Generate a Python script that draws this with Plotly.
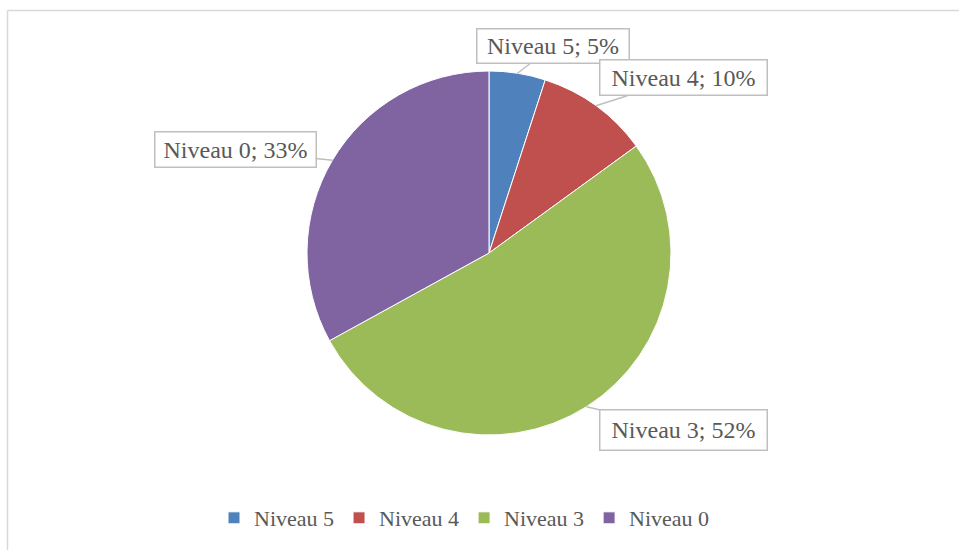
import math
import plotly.graph_objects as go

categories = ["Niveau 5", "Niveau 4", "Niveau 3", "Niveau 0"]
values = [5, 10, 52, 33]
colors = ["#4F81BD", "#C0504D", "#9BBB59", "#8064A2"]

W, H = 959, 550
# pie geometry (pixels)
CX, CY, R = 489, 253, 182
# label box centres (pixels) and box sizes
label_centres = [(553, 46), (683, 78), (683, 430), (235, 149)]
box_sizes = [(143, 25), (158, 26), (158, 31), (152, 26)]

FONT = "Liberation Serif"
TXT = "#595959"

fig = go.Figure(go.Pie(
    labels=categories, values=values, sort=False, direction="clockwise",
    rotation=0, textinfo="none", hoverinfo="label+percent",
    marker=dict(colors=colors, line=dict(color="white", width=1)),
    domain=dict(x=[(CX - R) / W, (CX + R) / W], y=[(H - CY - R) / H, (H - CY + R) / H]),
))

total = sum(values)
cum = 0
annotations = []
for cat, v, (lx, ly), (bw, bh) in zip(categories, values, label_centres, box_sizes):
    mid = (cum + v / 2) / total * 2 * math.pi
    cum += v
    px = CX + R * math.sin(mid)
    py = CY - R * math.cos(mid)
    pct = round(v / total * 100)
    annotations.append(dict(
        x=px / W, y=1 - py / H, xref="paper", yref="paper",
        text=f"{cat}; {pct}%", showarrow=True, arrowhead=0, arrowwidth=1.5,
        arrowcolor="#BFBFBF", standoff=0, ax=lx - px, ay=ly - py,
        bgcolor="white", bordercolor="#BFBFBF", borderwidth=1.5, borderpad=4,
        width=bw, height=bh, align="center", valign="middle",
        font=dict(family=FONT, size=24, color=TXT),
    ))

frame = dict(color="#D9D9D9", width=1.5)
fig.update_layout(
    width=W, height=H,
    margin=dict(l=0, r=0, t=0, b=0),
    paper_bgcolor="white", plot_bgcolor="white",
    showlegend=True,
    legend=dict(orientation="h", x=0.5 - 15 / W, xanchor="center", y=1 - 518 / H, yanchor="middle",
                font=dict(family=FONT, size=22, color=TXT), traceorder="normal"),
    annotations=annotations,
    shapes=[
        dict(type="line", xref="paper", yref="paper", x0=7.5 / W, x1=1.0,
             y0=1 - 10.5 / H, y1=1 - 10.5 / H, line=frame, layer="below"),
        dict(type="line", xref="paper", yref="paper", x0=7.5 / W, x1=7.5 / W,
             y0=0.0, y1=1 - 10.5 / H, line=frame, layer="below"),
    ],
)

fig.write_html("out.html", config={"displayModeBar": False},
               post_script="document.body.style.margin='0px';document.body.style.overflow='hidden';")
